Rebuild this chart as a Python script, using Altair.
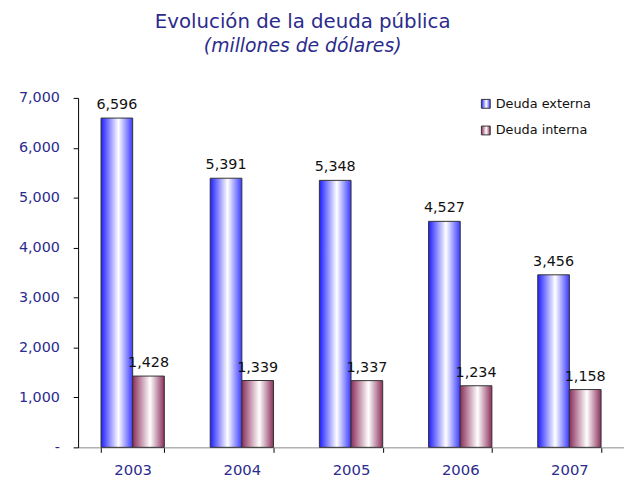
import altair as alt
import pandas as pd

years = ["2003", "2004", "2005", "2006", "2007"]
externa = [6596, 5391, 5348, 4527, 3456]
interna = [1428, 1339, 1337, 1234, 1158]
series = ["Deuda externa", "Deuda interna"]
y_ticks = [0, 1000, 2000, 3000, 4000, 5000, 6000, 7000]

rows = []
for i, yr in enumerate(years):
    rows.append({"year": yr, "serie": series[0], "value": externa[i]})
    rows.append({"year": yr, "serie": series[1], "value": interna[i]})
df = pd.DataFrame(rows)

FONT = "DejaVu Sans"
NAVY = "#2b2b8c"

grad_blue = alt.Gradient(
    gradient="linear", x1=0, x2=1, y1=0, y2=0,
    stops=[alt.GradientStop(offset=0, color="#1f1fff"),
           alt.GradientStop(offset=0.55, color="#ffffff"),
           alt.GradientStop(offset=1, color="#3a3aff")])
grad_pink = alt.Gradient(
    gradient="linear", x1=0, x2=1, y1=0, y2=0,
    stops=[alt.GradientStop(offset=0, color="#8c2f5c"),
           alt.GradientStop(offset=0.55, color="#ffffff"),
           alt.GradientStop(offset=1, color="#8c2f5c")])

x_enc = alt.X("year:N", sort=years, title=None,
              scale=alt.Scale(paddingInner=0.42, paddingOuter=0.21),
              axis=alt.Axis(labelAngle=0, tickBand="extent", labelFont=FONT,
                            labelFontSize=15, labelColor=NAVY, domainColor="#888888",
                            tickColor="#000000", tickSize=5, labelPadding=11, grid=False))
y_enc = alt.Y("value:Q", title=None,
              scale=alt.Scale(domain=[0, 7000], nice=False),
              axis=alt.Axis(values=y_ticks, grid=False, labelFont=FONT, labelFontSize=14.5,
                            labelColor=NAVY, domainColor="#000000", tickColor="#000000",
                            tickSize=5, labelPadding=14,
                            labelExpr="datum.value == 0 ? '-' : format(datum.value, ',')"))
xoff = alt.XOffset("serie:N", scale=alt.Scale(domain=series))

base = alt.Chart(df).encode(x=x_enc, xOffset=xoff, y=y_enc)

bars_ext = base.transform_filter(alt.datum.serie == series[0]).mark_bar(
    fill=grad_blue, stroke="#333333", strokeWidth=1)
bars_int = base.transform_filter(alt.datum.serie == series[1]).mark_bar(
    fill=grad_pink, stroke="#333333", strokeWidth=1)
labels = base.mark_text(dy=-13, font=FONT, fontSize=14.5, color="#111111").encode(
    text=alt.Text("value:Q", format=","))

leg_df = pd.DataFrame({"serie": series, "row": [0, 1]})
legend_layers = []
for i, (g, yy) in enumerate([(grad_blue, 6), (grad_pink, 33)]):
    sub = alt.Chart(leg_df).transform_filter(alt.datum.row == i)
    legend_layers.append(sub.mark_square(
        size=80, fill=g, stroke="#333333", strokeWidth=1, opacity=1).encode(
        x=alt.value(413), y=alt.value(yy)))
    legend_layers.append(sub.mark_text(
        align="left", baseline="middle", font=FONT, fontSize=13, color="#111111").encode(
        x=alt.value(423), y=alt.value(yy), text="serie:N"))

chart = alt.layer(bars_ext, bars_int, labels, *legend_layers).properties(
    width=553, height=354,
    autosize=alt.AutoSizeParams(type="none"),
    padding={"left": 71, "top": 88, "right": 0, "bottom": 30},
    title=alt.TitleParams(
        text="Evolución de la deuda pública",
        subtitle="(millones de dólares)",
        font=FONT, fontSize=20, fontWeight="normal", color=NAVY,
        subtitleFont=FONT, subtitleFontSize=19, subtitleFontStyle="italic",
        subtitleColor=NAVY, subtitlePadding=6,
        anchor="middle", dx=-49, offset=34)
).configure_view(stroke=None)

chart.save("out.html", embed_options={"renderer": "svg", "actions": False})
